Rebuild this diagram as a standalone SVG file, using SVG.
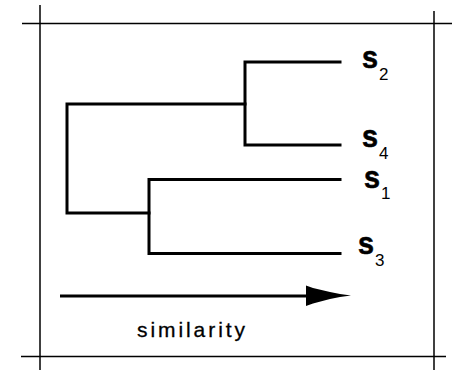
<svg xmlns="http://www.w3.org/2000/svg" width="452" height="370" viewBox="0 0 452 370">
  <style>
    .frame { stroke: #000; stroke-width: 1.5; fill: none; }
    .branch { stroke: #000; stroke-width: 3; fill: none; stroke-linecap: square; stroke-linejoin: miter; }
    .leaf { font-family: "Liberation Sans", Arial, sans-serif; font-weight: bold; font-size: 32px; fill: #000; stroke: #000; stroke-width: 0.6; }
    .sub { font-family: "Liberation Sans", Arial, sans-serif; font-size: 17px; fill: #000; }
    .axis-label { font-family: "Liberation Sans", Arial, sans-serif; font-size: 21px; fill: #000; stroke: #000; stroke-width: 0.3; }
  </style>
  <rect x="0" y="0" width="452" height="370" fill="#fff"/>

  <!-- crop-mark frame -->
  <g id="frame">
    <line class="frame" x1="22" y1="23.5" x2="452" y2="23.5"/>
    <line class="frame" x1="21" y1="356.5" x2="446" y2="356.5"/>
    <line class="frame" x1="40" y1="5" x2="40" y2="370"/>
    <line class="frame" x1="434" y1="11" x2="434" y2="370"/>
  </g>

  <!-- dendrogram branches -->
  <g id="connectors">
    <path class="branch" d="M340,62 H245 V145 H340"/>
    <path class="branch" d="M245,104 H67 V213 H149"/>
    <path class="branch" d="M340,179.5 H149 V253.5 H340"/>
  </g>

  <!-- leaves -->
  <g id="s2">
    <text class="leaf" x="362" y="68" textLength="16" lengthAdjust="spacingAndGlyphs">s</text>
    <text class="sub" x="379" y="80">2</text>
  </g>
  <g id="s4">
    <text class="leaf" x="362" y="147" textLength="16" lengthAdjust="spacingAndGlyphs">s</text>
    <text class="sub" x="379" y="159">4</text>
  </g>
  <g id="s1">
    <text class="leaf" x="364" y="188" textLength="16" lengthAdjust="spacingAndGlyphs">s</text>
    <text class="sub" x="381" y="199">1</text>
  </g>
  <g id="s3">
    <text class="leaf" x="358" y="254" textLength="16" lengthAdjust="spacingAndGlyphs">s</text>
    <text class="sub" x="375" y="266">3</text>
  </g>

  <!-- similarity axis -->
  <g id="axis">
    <line x1="60" y1="296" x2="310" y2="296" stroke="#000" stroke-width="3"/>
    <polygon points="306,285.5 313,288 330,292 340,294 351,295.5 340,297 330,299 313,303.5 306,306" fill="#000"/>
    <text class="axis-label" x="137" y="337" textLength="108" lengthAdjust="spacing">similarity</text>
  </g>
</svg>
